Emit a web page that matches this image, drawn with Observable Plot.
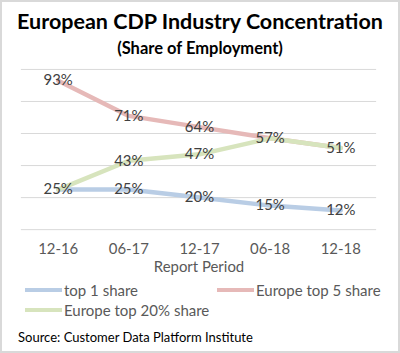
<!DOCTYPE html>
<html><head><meta charset="utf-8">
<script src="https://cdn.jsdelivr.net/npm/d3@7"></script>
<script src="https://cdn.jsdelivr.net/npm/@observablehq/plot@0.6"></script>
<style>
html,body{margin:0;padding:0;background:#fff;}
#wrap{position:relative;width:400px;height:353px;box-sizing:border-box;border:2px solid #d9d9d9;background:#fff;font-family:Lato,"Open Sans",sans-serif;overflow:hidden;}
.t{position:absolute;left:0;width:396px;text-align:center;font-weight:bold;color:#000;white-space:nowrap;}
#plot{position:absolute;left:-2px;top:56px;}
.lg{position:absolute;font-size:15px;color:#595959;white-space:nowrap;display:flex;align-items:center;}
.sw{display:inline-block;width:37px;height:4px;margin-right:2px;}
#src{position:absolute;left:16px;top:327px;font-size:13px;color:#000;white-space:nowrap;}
</style></head>
<body>
<div id="wrap">
  <div class="t" id="title" style="top:6px;font-size:21.5px;">European CDP Industry Concentration</div>
  <div class="t" id="sub" style="top:36px;font-size:16.5px;">(Share of Employment)</div>
  <div id="plot"></div>
  <div id="legend"></div>
  <div id="src">Source: Customer Data Platform Institute</div>
</div>
<script>
const periods = ["12-16", "06-17", "12-17", "06-18", "12-18"];
const seriesNames = ["top 1 share", "Europe top 5 share", "Europe top 20% share"];
const top1 = [25, 25, 20, 15, 12];
const top5 = [93, 71, 64, 57, 51];
const top20 = [25, 43, 47, 57, 51];
const colors = ["#b9cde5", "#e6b9b8", "#d7e4bd"];
const yTicks = [0, 20, 40, 60, 80, 100];

const allSeries = [top1, top5, top20];
const data = [];
allSeries.forEach((vals, s) => vals.forEach((v, i) => data.push({series: seriesNames[s], period: periods[i], value: v})));
// one label per distinct point (coincident labels would overprint)
const seen = new Set();
const labels = data.filter(d => { const k = d.period + "|" + d.value; if (seen.has(k)) return false; seen.add(k); return true; });

const chart = Plot.plot({
  width: 400,
  height: 225,
  marginLeft: 21,
  marginRight: 22,
  marginTop: 11,
  marginBottom: 53,
  style: {fontFamily: "Lato, 'Open Sans', sans-serif", background: "transparent"},
  x: {type: "point", domain: periods, padding: 0.5},
  y: {domain: [0, 100], axis: null},
  color: {domain: seriesNames, range: colors},
  marks: [
    Plot.ruleY(yTicks, {stroke: "#d9d9d9", strokeWidth: 1}),
    Plot.axisX({tickSize: 0, tickPadding: 14, fontSize: 15, color: "#595959", label: "Report Period", labelAnchor: "center", labelArrow: "none", labelOffset: 43}),
    Plot.line(data, {x: "period", y: "value", z: "series", stroke: "series", strokeWidth: 4.5, strokeLinejoin: "round"}),
    Plot.text(labels, {x: "period", y: "value", text: d => d.value + "%", fill: "#404040", fontSize: 15, textAnchor: "middle"})
  ]
});
document.getElementById("plot").appendChild(chart);

const legendPos = [[23, 279], [215, 279], [23, 299]];
const lg = document.getElementById("legend");
seriesNames.forEach((name, i) => {
  const d = document.createElement("div");
  d.className = "lg";
  d.style.left = legendPos[i][0] + "px";
  d.style.top = legendPos[i][1] + "px";
  d.innerHTML = `<span class="sw" style="background:${colors[i]}"></span>${name}`;
  lg.appendChild(d);
});
</script>
</body></html>
